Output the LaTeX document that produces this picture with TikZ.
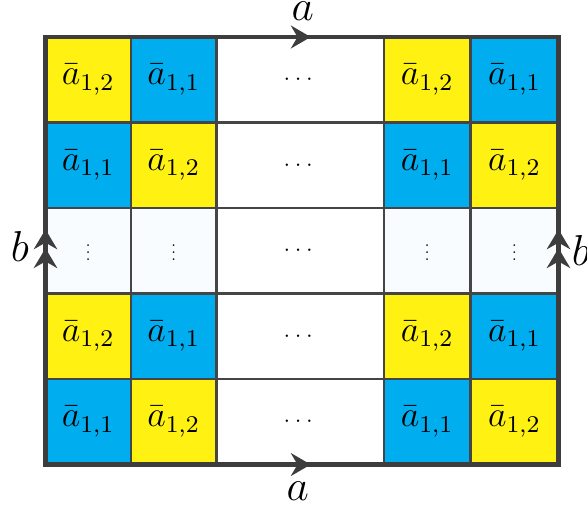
\documentclass[tikz,border=0pt]{standalone}
\usepackage{amsmath,amssymb}
\usepackage{xcolor}
\usepackage{tikz}
\usetikzlibrary{arrows.meta,decorations.markings}
\definecolor{cellyellow}{HTML}{FFF212}
\definecolor{cellblue}{HTML}{00AEEF}
\definecolor{palecell}{HTML}{F9FCFE}
\definecolor{framegray}{HTML}{3D3D3D}
\definecolor{linegray}{HTML}{454545}

\begin{document}
\begin{tikzpicture}[x=1cm,y=1cm,
  gridline/.style={draw=linegray,line width=0.7pt},
  frame/.style={draw=framegray,line width=1.6pt,line cap=rect},
  edge a/.style={postaction={decorate},decoration={markings,
    mark=at position 0.517 with {\arrow[framegray]{Stealth[length=6.6pt,width=7.6pt,inset=2.2pt]}}}},
  edge b/.style={postaction={decorate},decoration={markings,
    mark=at position 0.506 with {\arrow[framegray]{Stealth[length=6.6pt,width=7.8pt,inset=2.2pt]}},
    mark=at position 0.550 with {\arrow[framegray]{Stealth[length=6.6pt,width=7.8pt,inset=2.2pt]}}}},
  cell label/.style={font=\fontsize{11.6}{14}\selectfont,inner sep=0pt},
  edge label/.style={font=\fontsize{13.4}{16}\selectfont,inner sep=0pt,anchor=base}]
  \useasboundingbox (-0.532,-0.462) rectangle (6.333,5.433);
  \coordinate (sw) at (0,0); \coordinate (se) at (6,0);
  \coordinate (ne) at (6,5); \coordinate (nw) at (0,5);
  % coloured cells
  \foreach \ya/\fa/\fb/\la/\lb in {0/cellblue/cellyellow/1/2, 1/cellyellow/cellblue/2/1,
      3/cellblue/cellyellow/1/2, 4/cellyellow/cellblue/2/1} {
    \fill[\fa] (0,\ya) rectangle (1,\ya+1);
    \fill[\fb] (1,\ya) rectangle (2,\ya+1);
    \fill[\fa] (3.96,\ya) rectangle (4.97,\ya+1);
    \fill[\fb] (4.97,\ya) rectangle (6,\ya+1);
    \node[cell label] (c-\ya-1) at (0.5,\ya+0.5) {$\bar{a}_{1,\la}$};
    \node[cell label] (c-\ya-2) at (1.5,\ya+0.5) {$\bar{a}_{1,\lb}$};
    \node[cell label] (c-\ya-4) at (4.465,\ya+0.5) {$\bar{a}_{1,\la}$};
    \node[cell label] (c-\ya-5) at (5.485,\ya+0.5) {$\bar{a}_{1,\lb}$};
  }
  % row of vertical dots
  \fill[palecell] (0,2) rectangle (2,3);
  \fill[palecell] (3.96,2) rectangle (6,3);
  \foreach \xc/\k in {0.5/1, 1.5/2, 4.465/4, 5.485/5}
    \node[inner sep=0pt,yshift=1pt] (v-\k) at (\xc,2.5) {\scalebox{0.55}{$\vdots$}};
  \foreach \ya in {0,...,4}
    \node[inner sep=0pt,font=\scriptsize] (h-\ya) at (2.98,\ya+0.5) {$\cdots$};
  % grid
  \foreach \y in {1,...,4} \draw[gridline] (0,\y) -- (6,\y);
  \foreach \x in {1,2,3.96,4.97} \draw[gridline] (\x,0) -- (\x,5);
  % glued edges
  \draw[frame] (sw) rectangle (ne);
  \draw[frame,edge a] (sw) -- (se);
  \draw[frame,edge a] (nw) -- (ne);
  \draw[frame,edge b] (sw) -- (nw);
  \draw[frame,edge b] (se) -- (ne);
  \node[edge label] (a-top) at (3.01,5.19) {$a$};
  \node[edge label] (a-bot) at (2.95,-0.415) {$a$};
  \node[edge label,font=\fontsize{14}{16}\selectfont] (b-left) at (-0.30,2.37) {$b$};
  \node[edge label,font=\fontsize{14}{16}\selectfont] (b-right) at (6.26,2.33) {$b$};
\end{tikzpicture}
\end{document}
